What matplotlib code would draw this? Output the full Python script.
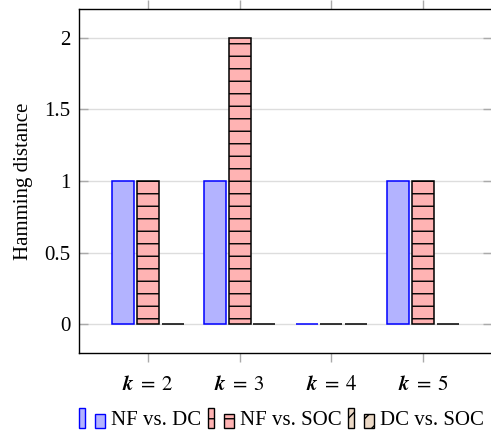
import numpy as np
import matplotlib
matplotlib.use('Agg')
from matplotlib import pyplot as plt
from matplotlib.patches import Rectangle
from matplotlib.legend_handler import HandlerBase
from matplotlib.backend_bases import GraphicsContextBase

plt.rcParams['font.family'] = ['Liberation Serif', 'DejaVu Serif']
plt.rcParams['mathtext.fontset'] = 'stix'
plt.rcParams['hatch.linewidth'] = 1.0

# sparser hatching (about 8 px between lines, like pgfplots)
_hatch_path = GraphicsContextBase.get_hatch_path
GraphicsContextBase.get_hatch_path = lambda self, density=4.5: _hatch_path(self, density)

ks = [2, 3, 4, 5]
tick_labels = [r'$\mathbfit{k}\;=\;%d$' % k for k in ks]
series = ['NF vs. DC', 'NF vs. SOC', 'DC vs. SOC']
nf_dc = [1, 1, 0, 1]
nf_soc = [1, 2, 0, 1]
dc_soc = [0, 0, 0, 0]

styles = [
	dict(facecolor='#b3b3ff', edgecolor='#0000ff', hatch=None),
	dict(facecolor='#ffb3b3', edgecolor='black', hatch='--'),
	dict(facecolor='#ecd9c6', edgecolor='black', hatch='///'),
]


class TwoBars(HandlerBase):
	# pgfplots style ybar legend: two small bars
	def create_artists(self, legend, orig, xd, yd, width, height, fontsize, trans):
		st = orig._style
		h = height * 1.35
		y0 = yd - 0.2 * height
		r1 = Rectangle((xd, y0), width * 0.24, h, transform=trans, lw=1.0, **st)
		r2 = Rectangle((xd + width * 0.6, y0), width * 0.36, h * 0.72, transform=trans, lw=1.0, **st)
		return [r1, r2]


fig = plt.figure(figsize=(4.91, 4.36), dpi=100)
ax = fig.add_axes([0.161, 0.190, 0.841, 0.789])

x = np.arange(len(ks)) + 2
w = 0.24
step = 0.27
handles = []
for i, (vals, st) in enumerate(zip([nf_dc, nf_soc, dc_soc], styles)):
	bars = ax.bar(x + (i - 1) * step, vals, w, linewidth=1.1,
		zorder=3, **st)
	bars._style = st
	handles.append(bars)

ax.set_xlim(1.25, 5.75)
ax.set_ylim(-0.2, 2.2)
ax.set_xticks(x)
ax.set_xticklabels(tick_labels, fontsize=15)
ax.set_yticks([0, 0.5, 1, 1.5, 2])
ax.set_yticklabels(['0', '0.5', '1', '1.5', '2'], fontsize=15)
ax.set_ylabel('Hamming distance', fontsize=15, labelpad=8)

ax.yaxis.grid(True, color='#dddddd', linewidth=1.0, zorder=0)
ax.set_axisbelow(True)
ax.tick_params(axis='x', direction='out', top=True, color='#aaaaaa', length=6.5, width=1.0, pad=10)
ax.tick_params(axis='y', direction='in', right=True, color='#aaaaaa', length=6.5, width=1.0, pad=6)
for s in ax.spines.values():
	s.set_linewidth(1.0)

ax.legend(handles, series, loc='center', bbox_to_anchor=(0.49, -0.195), ncol=3,
	frameon=False, fontsize=15, handler_map={type(handles[0]): TwoBars()},
	handlelength=1.3, handletextpad=0.25, columnspacing=0.3, borderaxespad=0)

fig.savefig('out.png', dpi=100)
